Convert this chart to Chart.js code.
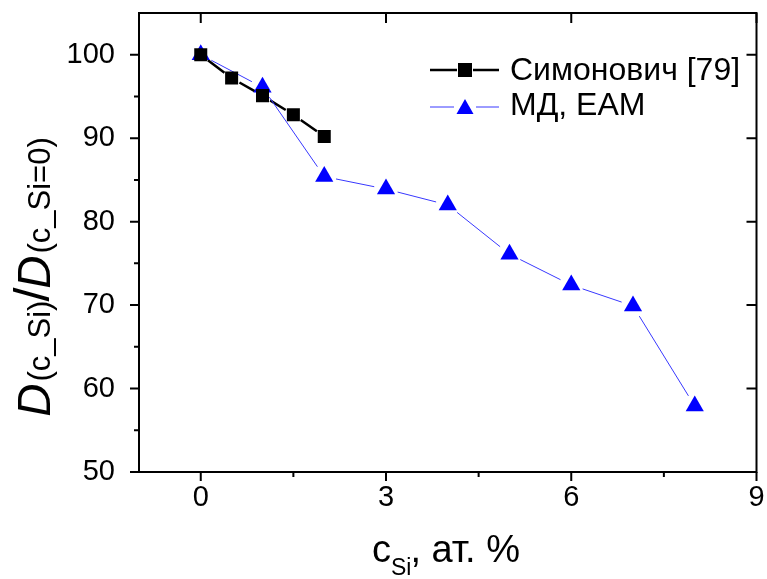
<!DOCTYPE html>
<html>
<head>
<meta charset="utf-8">
<script src="https://cdn.jsdelivr.net/npm/chart.js@4.4.1/dist/chart.umd.min.js"></script>
<style>
  html, body { margin: 0; padding: 0; background: #fff; }
  #wrap { width: 767px; height: 579px; }
</style>
</head>
<body>
<div id="wrap"><canvas id="c" width="767" height="579"></canvas></div>
<script>
// данные
const simX = [0, 0.5, 1, 1.5, 2];
const simY = [100, 97.2, 95.1, 92.8, 90.2];
const mdX = [0, 1, 2, 3, 4, 5, 6, 7, 8];
const mdY = [100, 96.1, 85.4, 83.9, 82.0, 76.1, 72.4, 69.9, 57.9];
const xTicks = [0, 3, 6, 9];
const xMinor = [1.5, 4.5, 7.5];
const yTicks = [50, 60, 70, 80, 90, 100];
const yMinor = [55, 65, 75, 85, 95];
const seriesNames = ['Симонович [79]', 'МД, ЕАМ'];

const FONT = '"Liberation Sans", Arial, sans-serif';
const lineStyle = [
  { color: '#000', width: 2.5, gap: 9 },
  { color: '#3838ff', width: 1, gap: 12 }
];

const toPoints = (xs, ys) => xs.map((x, i) => ({ x: x, y: ys[i] }));

// линии с разрывами у маркеров (как в Origin)
const gappedLines = {
  id: 'gappedLines',
  beforeDatasetsDraw(chart) {
    const ctx = chart.ctx;
    ctx.save();
    chart.data.datasets.forEach((ds, di) => {
      const pts = chart.getDatasetMeta(di).data;
      const st = lineStyle[di];
      ctx.strokeStyle = st.color;
      ctx.lineWidth = st.width;
      ctx.beginPath();
      for (let i = 1; i < pts.length; i++) {
        const a = pts[i - 1], b = pts[i];
        const dx = b.x - a.x, dy = b.y - a.y;
        const len = Math.hypot(dx, dy);
        if (len <= 2 * st.gap) continue;
        const ux = dx / len, uy = dy / len;
        ctx.moveTo(a.x + ux * st.gap, a.y + uy * st.gap);
        ctx.lineTo(b.x - ux * st.gap, b.y - uy * st.gap);
      }
      ctx.stroke();
    });
    ctx.restore();
  }
};

// рамка, засечки, подписи осей и легенда
const decor = {
  id: 'decor',
  afterDraw(chart) {
    const ctx = chart.ctx;
    const a = chart.chartArea;
    const sx = chart.scales.x, sy = chart.scales.y;
    ctx.save();
    ctx.strokeStyle = '#000';
    ctx.lineWidth = 2;
    ctx.strokeRect(a.left, a.top, a.right - a.left, a.bottom - a.top);

    ctx.beginPath();
    xTicks.forEach(v => {
      const p = sx.getPixelForValue(v);
      ctx.moveTo(p, a.bottom); ctx.lineTo(p, a.bottom + 9);
      ctx.moveTo(p, a.top); ctx.lineTo(p, a.top + 10);
    });
    xMinor.forEach(v => {
      const p = sx.getPixelForValue(v);
      ctx.moveTo(p, a.bottom); ctx.lineTo(p, a.bottom + 5);
    });
    yTicks.forEach(v => {
      const p = sy.getPixelForValue(v);
      ctx.moveTo(a.left - 9, p); ctx.lineTo(a.left, p);
      ctx.moveTo(a.right, p); ctx.lineTo(a.right - 10, p);
    });
    yMinor.forEach(v => {
      const p = sy.getPixelForValue(v);
      ctx.moveTo(a.left - 5, p); ctx.lineTo(a.left, p);
    });
    ctx.stroke();

    // подпись оси X: c_Si, ат. %
    ctx.fillStyle = '#000';
    ctx.textBaseline = 'alphabetic';
    ctx.textAlign = 'left';
    const big = '38px ' + FONT, sub = '23px ' + FONT;
    const base = 562;
    let x0 = 372;
    ctx.font = big; ctx.fillText('c', x0, base);
    x0 += ctx.measureText('c').width;
    ctx.font = sub; ctx.fillText('Si', x0, base + 13);
    x0 += ctx.measureText('Si').width - 1;
    ctx.font = big; ctx.fillText(', ат. %', x0, base);

    // подпись оси Y: D(c_Si)/D(c_Si=0)
    ctx.translate(50, 277);
    ctx.rotate(-Math.PI / 2);
    const dF = 'italic 46px ' + FONT, sF = '31px ' + FONT, slF = '50px ' + FONT;
    const parts = [
      ['D', dF, 0, 0], ['(c_Si)', sF, 0, 2], ['/', slF, -1, -1], ['D', dF, 0, -1], ['(c_Si=0)', sF, 0, 2]
    ];
    let tw = 0;
    parts.forEach(p => { ctx.font = p[1]; p.push(ctx.measureText(p[0]).width); tw += p[4] + p[3]; });
    let cx = -tw / 2;
    parts.forEach(p => { ctx.font = p[1]; cx += p[3]; ctx.fillText(p[0], cx, p[2]); cx += p[4]; });
    ctx.restore();

    // легенда
    ctx.save();
    const lx0 = 430, lx1 = 499, mx = 465;
    const ly = [70, 107];
    ctx.strokeStyle = '#000'; ctx.lineWidth = 2.5;
    ctx.beginPath();
    ctx.moveTo(lx0, ly[0]); ctx.lineTo(mx - 8, ly[0]);
    ctx.moveTo(mx + 8, ly[0]); ctx.lineTo(lx1, ly[0]);
    ctx.stroke();
    ctx.fillStyle = '#000'; ctx.fillRect(mx - 7, ly[0] - 7, 14, 14);
    ctx.strokeStyle = '#3838ff'; ctx.lineWidth = 1;
    ctx.beginPath();
    ctx.moveTo(lx0, ly[1]); ctx.lineTo(mx - 11, ly[1]);
    ctx.moveTo(mx + 11, ly[1]); ctx.lineTo(lx1, ly[1]);
    ctx.stroke();
    ctx.fillStyle = '#0000ff';
    ctx.beginPath();
    ctx.moveTo(mx, ly[1] - 8); ctx.lineTo(mx + 8.5, ly[1] + 7); ctx.lineTo(mx - 8.5, ly[1] + 7);
    ctx.closePath(); ctx.fill();
    ctx.fillStyle = '#000';
    ctx.font = '32px ' + FONT;
    ctx.textBaseline = 'middle';
    ctx.fillText(seriesNames[0], 510, ly[0] + 1);
    ctx.fillText(seriesNames[1], 510, ly[1] - 1);
    ctx.restore();
  }
};

const noPad = s => { s.paddingTop = 0; s.paddingBottom = 0; s.paddingLeft = 0; s.paddingRight = 0; };

new Chart(document.getElementById('c'), {
  type: 'scatter',
  data: {
    datasets: [
      {
        label: seriesNames[0],
        data: toPoints(simX, simY),
        showLine: false,
        backgroundColor: '#000',
        pointStyle: 'rect',
        pointRadius: 9.2,
        pointHoverRadius: 9.2,
        pointBorderWidth: 0
      },
      {
        label: seriesNames[1],
        data: toPoints(mdX, mdY),
        showLine: false,
        backgroundColor: '#0000ff',
        pointBackgroundColor: '#0000ff',
        pointBorderColor: '#0000ff',
        pointStyle: 'triangle',
        pointRadius: 10.5,
        pointHoverRadius: 10.5,
        pointBorderWidth: 0
      }
    ]
  },
  options: {
    responsive: false,
    animation: false,
    events: [],
    layout: { padding: { top: 13, right: 9, left: 0, bottom: 0 } },
    plugins: { legend: { display: false }, tooltip: { enabled: false } },
    scales: {
      x: {
        type: 'linear', min: -1, max: 9,
        afterBuildTicks: s => { s.ticks = xTicks.map(v => ({ value: v })); },
        afterFit: s => { s.height = 107; noPad(s); },
        grid: { display: false },
        border: { display: false },
        ticks: { color: '#000', font: { family: FONT, size: 29 }, padding: 1, maxRotation: 0 }
      },
      y: {
        type: 'linear', min: 50, max: 105,
        afterBuildTicks: s => { s.ticks = yTicks.map(v => ({ value: v })); },
        afterFit: s => { s.width = 139; noPad(s); },
        grid: { display: false },
        border: { display: false },
        ticks: { color: '#000', font: { family: FONT, size: 29 }, padding: 16 }
      }
    }
  },
  plugins: [gappedLines, decor]
});
</script>
</body>
</html>
